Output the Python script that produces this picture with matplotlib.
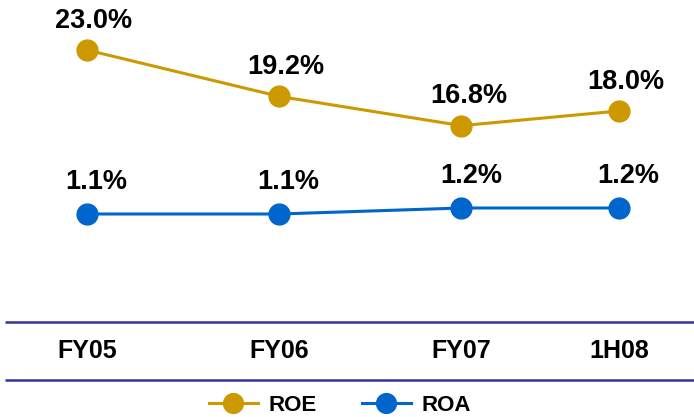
import matplotlib
matplotlib.use("Agg")
import matplotlib.pyplot as plt

plt.rcParams["font.family"] = ["Liberation Sans", "DejaVu Sans"]
plt.rcParams["font.weight"] = "bold"

periods = ["FY05", "FY06", "FY07", "1H08"]
roe = [23.0, 19.2, 16.8, 18.0]
roa = [1.1, 1.1, 1.2, 1.2]

# category positions are not evenly spaced in the original
x_pos = [0.0, 1.0, 1.95, 2.77]

GOLD = "#CC9900"
BLUE = "#0066CC"
RULE = "#333399"

fig = plt.figure(figsize=(6.94, 4.17), dpi=100)
fig.patch.set_facecolor("white")
ax = fig.add_axes([0, 0, 1, 1])
ax2 = ax.twinx()
for a in (ax, ax2):
    a.set_axis_off()
    a.set_xlim(-0.453, 3.161)

ax.set_ylim(23 - 367 / 12.2, 23 + 50 / 12.2)
ax2.set_ylim(1.1 - 203 / 60, 1.1 + 214 / 60)

h1, = ax.plot(x_pos, roe, color=GOLD, lw=2.2, marker="o", ms=15,
              markeredgecolor=GOLD, label="ROE", zorder=3)
h2, = ax2.plot(x_pos, roa, color=BLUE, lw=2.2, marker="o", ms=15,
               markeredgecolor=BLUE, label="ROA", zorder=3)

for x, v in zip(x_pos, roe):
    ax.annotate(f"{v:.1f}%", (x, v), xytext=(5, 21), textcoords="offset points",
                ha="center", va="center", fontsize=19.5, fontweight="bold")
for x, v in zip(x_pos, roa):
    ax2.annotate(f"{v:.1f}%", (x, v), xytext=(7, 23), textcoords="offset points",
                 ha="center", va="center", fontsize=19.5, fontweight="bold")

# category band between two rules
for yy in (0.2278, 0.0887):
    ax.plot([0.007, 1.0], [yy, yy], transform=ax.transAxes, color=RULE, lw=1.8,
            solid_capstyle="butt")
tr = ax.get_xaxis_transform()
for x, p in zip(x_pos, periods):
    ax.text(x, 0.158, p, transform=tr, ha="center", va="center",
            fontsize=18, fontweight="bold")

ax.legend(handles=[h1, h2], loc="lower center", bbox_to_anchor=(0.49, -0.045),
          ncol=2, frameon=False, fontsize=16, handlelength=2.2,
          columnspacing=2.0, handletextpad=0.5, markerscale=0.95)

fig.savefig("out.png", dpi=100, facecolor="white")
